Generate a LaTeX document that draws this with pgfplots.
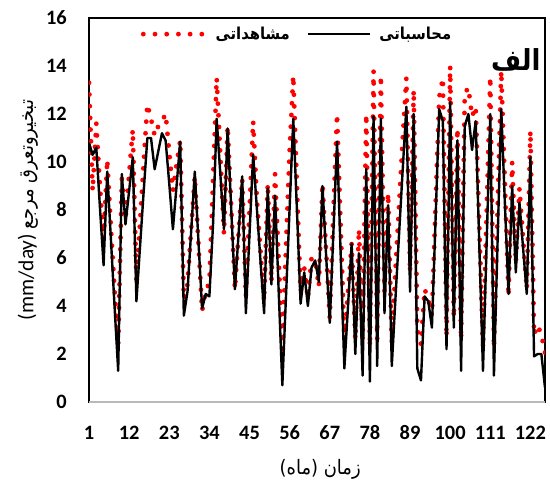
\documentclass[border=0pt]{standalone}
\usepackage{fontspec}
\setmainfont{Carlito}
\newfontfamily\fa[Script=Arabic]{DejaVu Sans}
\newfontfamily\fan[Script=Arabic,FakeStretch=0.9]{DejaVu Sans}
\TeXXeTstate=1
\usepackage{pgfplots}
\pgfplotsset{compat=1.18}
\usepackage{pgfplotstable}
\usetikzlibrary{calc}
\pgfplotstableread{
m comp obs
1 10.8 13.3
2 10.3 8.8
3 10.6 11.6
4 8.1 9.0
5 5.7 6.8
6 9.6 10.1
7 6.8 7.3
8 4.0 4.7
9 1.3 2.3
10 9.5 9.3
11 7.4 7.6
12 8.8 9.5
13 10.2 11.35
14 4.2 5.0
15 6.5 7.5
16 8.8 10.0
17 11.0 12.4
18 11.0 11.8
19 9.7 11.1
20 10.45 11.5
21 11.2 11.7
22 10.9 12.0
23 9.1 10.4
24 7.2 8.8
25 9.0 9.9
26 10.85 10.9
27 3.6 4.3
28 4.6 4.9
29 7.1 7.2
30 9.6 9.4
31 6.7 6.6
32 3.9 3.8
33 4.5 4.6
34 4.4 5.0
35 7.4 9.2
36 11.8 13.5
37 9.5 10.3
38 7.2 7.0
39 11.4 11.5
40 8.0 8.1
41 4.7 4.7
42 7.0 7.0
43 9.4 9.3
44 3.7 4.4
45 7.0 8.0
46 10.3 11.7
47 8.1 8.5
48 5.9 6.3
49 3.7 4.2
50 8.9 9.1
51 4.9 5.0
52 8.6 9.5
53 4.6 5.9
54 0.7 2.2
55 4.4 6.5
56 8.1 10.5
57 11.8 13.6
58 8.0 9.0
59 4.1 4.6
60 5.4 5.6
61 4.0 4.3
62 5.6 6.0
63 5.9 5.9
64 5.0 4.8
65 9.0 9.1
66 6.1 6.3
67 3.3 3.5
68 7.1 8.0
69 10.85 12.0
70 6.1 7.3
71 1.4 2.6
72 4.0 4.6
73 6.6 6.6
74 2.0 2.6
75 6.2 7.2
76 1.1 2.6
77 9.7 12.0
78 0.85 2.3
79 11.9 13.8
80 1.5 2.6
81 11.8 13.6
82 3.7 4.6
83 8.2 8.7
84 1.5 2.4
85 4.3 5.5
86 7.0 8.2
87 9.7 11.0
88 12.3 13.5
89 4.6 5.4
90 12.0 13.0
91 1.4 3.0
92 0.9 2.4
93 4.4 4.7
94 4.2 4.3
95 3.1 3.6
96 7.6 8.2
97 12.2 12.7
98 11.7 13.5
99 2.2 2.7
100 12.5 14.0
101 3.1 3.5
102 10.9 11.4
103 1.3 2.6
104 11.5 12.85
105 12.0 13.1
106 10.5 11.9
107 11.7 12.3
108 6.5 7.3
109 1.3 2.25
110 6.6 7.9
111 12.0 13.55
112 1.1 2.25
113 6.7 8.0
114 12.2 13.8
115 8.3 9.1
116 4.5 4.4
117 9.0 10.0
118 5.4 5.8
119 8.3 8.9
120 6.4 6.8
121 4.5 4.7
122 10.2 11.3
123 1.9 2.8
124 2.0 3.2
125 2.0 2.8
126 0.6 2.05
}\datatable
\begin{document}
\begin{tikzpicture}
\begin{axis}[
  scale only axis, width=456bp, height=384bp,
  xmin=1, xmax=126, ymin=0, ymax=16,
  xtick={1,12,23,34,45,56,67,78,89,100,111,122},
  ytick={0,2,...,16},
  major tick length=0pt,
  axis line style={black, line width=2.2bp},
  /pgf/number format/assume math mode=true,
  tick label style={font=\fontsize{20.5}{24}\selectfont\bfseries, inner sep=0pt},
  xticklabel style={anchor=center, yshift=-31bp},
  yticklabel style={anchor=east, xshift=-22bp},
  ylabel={\fontsize{21.5}{24}\selectfont (mm/day) {\fan\fontsize{20}{24}\selectfont\beginR تبخیروتعرق مرجع\endR}},
  ylabel style={at={(axis description cs:-0.134,0.5)}, anchor=center, inner sep=0pt},
  xlabel={{\fan\fontsize{20}{23}\selectfont (ماه) \beginR زمان\endR}},
  xlabel style={at={(axis description cs:0.507,-0.175)}, anchor=center, inner sep=0pt},
  legend columns=2,
  legend style={at={(axis description cs:0.463,0.958)}, anchor=center, draw=none, fill=none,
    font=\fan\bfseries\fontsize{16.5}{19}\selectfont,
    /tikz/every even column/.append style={column sep=9bp},
    nodes={inner xsep=8bp}},
  legend image code/.code={\draw[#1] (0bp,0bp) -- (62bp,0bp);},
]
\addplot[red, line width=4.8bp, line cap=round, dash pattern=on 0pt off 11.7bp] table[x=m, y=obs] {\datatable};
\addlegendentry{مشاهداتی}
\addplot[black, line width=2.4bp, line join=round] table[x=m, y=comp] {\datatable};
\addlegendentry{محاسباتی}
\draw[gray!55, line width=2bp] (rel axis cs:0,0) -- (rel axis cs:1,0);
\node[font=\fan\bfseries\fontsize{29}{32}\selectfont, anchor=center] at (rel axis cs:0.936,0.892) {الف};
\coordinate (sw) at (rel axis cs:0,0);
\coordinate (ne) at (rel axis cs:1,1);
\end{axis}
\pgfresetboundingbox
\path ($(sw)+(-89bp,-81bp)$) rectangle ($(ne)+(5bp,18bp)$);
\end{tikzpicture}
\end{document}
